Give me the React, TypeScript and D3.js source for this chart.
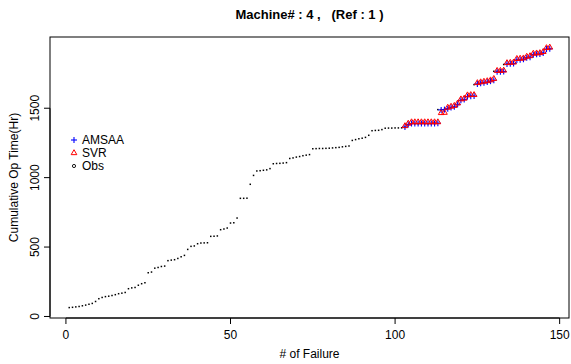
import React from 'react'
import * as d3 from 'd3'

// observed cumulative operating time, failures 1..147
const obs = [
  64, 66, 69, 72, 77, 82, 88, 94, 108, 128,
  137, 143, 146, 151, 157, 164, 168, 173, 200, 206,
  209, 225, 236, 243, 315, 320, 348, 353, 360, 363,
  402, 406, 409, 418, 430, 440, 483, 505, 508, 524,
  529, 530, 531, 577, 578, 580, 625, 630, 637, 673,
  675, 709, 851, 851, 852, 952, 1016, 1048, 1050, 1053,
  1056, 1065, 1100, 1102, 1103, 1105, 1108, 1138, 1142, 1148,
  1152, 1158, 1162, 1166, 1208, 1209, 1210, 1210, 1211, 1212,
  1214, 1216, 1218, 1222, 1225, 1228, 1268, 1274, 1280, 1284,
  1290, 1305, 1338, 1340, 1341, 1346, 1356, 1357, 1357, 1358,
  1358, 1359, 1362, 1380, 1388, 1388, 1388, 1388, 1388, 1388,
  1388, 1388, 1490, 1490, 1492, 1497, 1505, 1510, 1528, 1557,
  1562, 1584, 1586, 1670, 1674, 1678, 1682, 1686, 1694, 1766,
  1766, 1767, 1815, 1817, 1820, 1822, 1846, 1848, 1850, 1862,
  1866, 1884, 1886, 1888, 1896, 1924, 1926,
]

// predictions start at failure 103
const predStart = 103
const amsaa = [
  1365, 1382, 1390, 1390, 1390, 1390, 1390, 1390, 1390, 1390,
  1392, 1488, 1490, 1497, 1505, 1510, 1528, 1557, 1562, 1584,
  1586, 1588, 1675, 1680, 1684, 1688, 1695, 1702, 1762, 1762,
  1764, 1818, 1820, 1822, 1848, 1850, 1852, 1864, 1868, 1886,
  1888, 1890, 1898, 1926, 1928,
]
const svr = [
  1372, 1390, 1400, 1400, 1400, 1400, 1400, 1400, 1400, 1400,
  1400, 1466, 1468, 1505, 1512, 1518, 1535, 1565, 1570, 1594,
  1596, 1596, 1682, 1688, 1692, 1696, 1702, 1712, 1770, 1770,
  1772, 1826, 1828, 1830, 1856, 1858, 1860, 1872, 1876, 1894,
  1896, 1898, 1906, 1934, 1938,
]

const xTicks = [0, 50, 100, 150]
const yTicks = [0, 500, 1000, 1500]
const legendItems = ['AMSAA', 'SVR', 'Obs']

const W = 571, H = 364
const box = { left: 50, right: 569, top: 37, bottom: 318 }
const font = 'Liberation Sans, Arial, Helvetica, sans-serif'

// R style: data range padded 4% on each side
const pad = ([a, b]: number[]) => {
  const d = (b - a) * 0.04
  return [a - d, b + d]
}

export default function App() {
  const allY = [...obs, ...amsaa, ...svr]
  const x = d3.scaleLinear()
    .domain(pad([1, obs.length]))
    .range([box.left, box.right])
  const y = d3.scaleLinear()
    .domain(pad([d3.min(allY)!, d3.max(allY)!]))
    .range([box.bottom, box.top])

  const tri = d3.symbol().type(d3.symbolTriangle).size(14)

  const cx = (box.left + box.right) / 2
  const cy = (box.top + box.bottom) / 2

  return (
    <svg width={W} height={H} style={{ position: 'absolute', left: 0, top: 0, background: '#fff' }}
      fontFamily={font}>
      <text x={cx} y={19} textAnchor="middle" fontSize={13} fontWeight="bold" style={{ whiteSpace: 'pre' }}>
        {'Machine# : 4 ,   (Ref : 1 )'}
      </text>

      <rect x={box.left} y={box.top} width={box.right - box.left} height={box.bottom - box.top}
        fill="none" stroke="#000" strokeWidth={1} />

      {/* x axis */}
      <g>
        <line x1={x(xTicks[0])} x2={x(xTicks[xTicks.length - 1])} y1={box.bottom} y2={box.bottom} stroke="#000" />
        {xTicks.map(t => (
          <g key={t}>
            <line x1={x(t)} x2={x(t)} y1={box.bottom} y2={box.bottom + 6} stroke="#000" />
            <text x={x(t)} y={339} textAnchor="middle" fontSize={12}>{t}</text>
          </g>
        ))}
        <text x={cx} y={358} textAnchor="middle" fontSize={12}># of Failure</text>
      </g>

      {/* y axis */}
      <g>
        <line x1={box.left} x2={box.left} y1={y(yTicks[0])} y2={y(yTicks[yTicks.length - 1])} stroke="#000" />
        {yTicks.map(t => (
          <g key={t}>
            <line x1={box.left - 6} x2={box.left} y1={y(t)} y2={y(t)} stroke="#000" />
            <text transform={`translate(39,${y(t)}) rotate(-90)`} textAnchor="middle" fontSize={12}>{t}</text>
          </g>
        ))}
        <text transform={`translate(18,${cy}) rotate(-90)`} textAnchor="middle" fontSize={12}>
          Cumulative Op Time(Hr)
        </text>
      </g>

      {/* observations */}
      <g fill="#000">
        {obs.map((v, i) => (
          <rect key={i} x={x(i + 1) - 0.75} y={y(v) - 0.75} width={1.5} height={1.5} />
        ))}
      </g>

      {/* AMSAA */}
      <g stroke="#0000ff" strokeWidth={1.1}>
        {amsaa.map((v, i) => {
          const px = x(predStart + i), py = y(v)
          return (
            <g key={i}>
              <line x1={px - 3} x2={px + 3} y1={py} y2={py} />
              <line x1={px} x2={px} y1={py - 3} y2={py + 3} />
            </g>
          )
        })}
      </g>

      {/* SVR */}
      <g stroke="#ff0000" strokeWidth={1} fill="none">
        {svr.map((v, i) => (
          <path key={i} d={tri()!} transform={`translate(${x(predStart + i)},${y(v)})`} />
        ))}
      </g>

      {/* legend */}
      <g fontSize={12}>
        {legendItems.map((name, i) => {
          const ly = 140 + i * 13
          return (
            <g key={name}>
              {name === 'AMSAA' && (
                <g stroke="#0000ff" strokeWidth={1.1}>
                  <line x1={71} x2={77} y1={ly} y2={ly} />
                  <line x1={74} x2={74} y1={ly - 3} y2={ly + 3} />
                </g>
              )}
              {name === 'SVR' && (
                <path d={tri()!} transform={`translate(74,${ly})`} stroke="#ff0000" fill="none" />
              )}
              {name === 'Obs' && (
                <circle cx={74} cy={ly} r={1.6} stroke="#000" strokeWidth={0.9} fill="none" />
              )}
              <text x={82} y={ly + 4}>{name}</text>
            </g>
          )
        })}
      </g>
    </svg>
  )
}
